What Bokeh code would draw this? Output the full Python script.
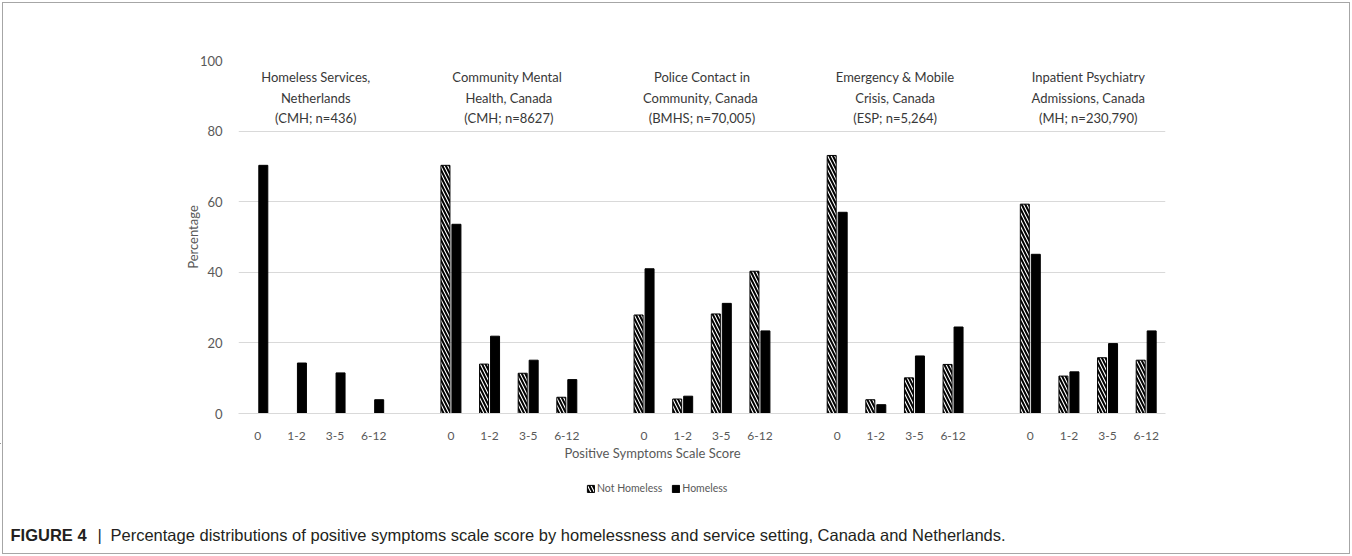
from bokeh.plotting import figure
from bokeh.models import ColumnDataSource, Range1d, FixedTicker, Legend, LegendItem
from bokeh.layouts import column
from bokeh.transform import dodge
from bokeh.core.properties import value
from bokeh.embed import file_html
from bokeh.resources import INLINE

nan = float("nan")

# ---- data ----
categories = ["0", "1-2", "3-5", "6-12"]
groups = ["Homeless Services, Netherlands", "Community Mental Health, Canada",
          "Police Contact in Community, Canada", "Emergency & Mobile Crisis, Canada",
          "Inpatient Psychiatry Admissions, Canada"]
title_line1 = ["Homeless Services,", "Community  Mental", "Police Contact in",
               "Emergency & Mobile", "Inpatient Psychiatry"]
title_line2 = ["Netherlands", "Health, Canada", "Community,  Canada",
               "Crisis, Canada", "Admissions, Canada"]
title_line3 = ["(CMH; n=436)", "(CMH; n=8627)", "(BMHS; n=70,005)",
               "(ESP; n=5,264)", "(MH; n=230,790)"]

not_homeless = [
    [nan, nan, nan, nan],
    [70.3, 14.0, 11.4, 4.6],
    [27.9, 4.1, 28.2, 40.3],
    [73.1, 3.9, 10.1, 13.9],
    [59.3, 10.6, 15.8, 15.1],
]
homeless = [
    [70.3, 14.3, 11.5, 3.9],
    [53.6, 21.9, 15.1, 9.6],
    [41.0, 4.9, 31.2, 23.4],
    [57.0, 2.5, 16.3, 24.5],
    [45.1, 11.8, 19.8, 23.4],
]
y_ticks = [0, 20, 40, 60, 80, 100]
x_title = "Positive Symptoms Scale Score"
legend_labels = ["Not Homeless", "Homeless"]
caption_bold = "FIGURE 4"
caption_sep = "|"
caption_text = ("Percentage distributions of positive symptoms scale score by "
                "homelessness and service setting, Canada and Netherlands.")

# ---- build table ----
xs, labels, nh, h = [], [], [], []
for g in range(len(groups)):
    for c, cat in enumerate(categories):
        xs.append(g * 5 + c)
        labels.append(cat)
        nh.append(not_homeless[g][c])
        h.append(homeless[g][c])
src = ColumnDataSource(dict(x=xs, label=labels, nh=nh, h=h))
tsrc = ColumnDataSource(dict(x=[g * 5 + 1.5 for g in range(len(groups))],
                             l1=title_line1, l2=title_line2, l3=title_line3,
                             y1=[95.2] * 5, y2=[89.5] * 5, y3=[83.8] * 5))

FONT = "Lato"
GREY = "#595959"
W = 1352
H_TOP = 443
H_BOT = 113

HATCH = dict(fill_color="white", line_color="black", line_width=1,
             hatch_pattern="left_diagonal_line", hatch_color="black",
             hatch_scale=7, hatch_weight=2)
SOLID = dict(fill_color="black", line_color="black", line_width=1)

p = figure(width=W, height=H_TOP, output_backend="svg", toolbar_location=None,
           x_range=Range1d(-0.5, 23.5), y_range=Range1d(0, 100),
           min_border_left=238, min_border_right=W - 1165, min_border_top=60,
           min_border_bottom=H_TOP - 413)
p.outline_line_color = None
p.border_fill_color = None
p.frame_align = False

# y axis
p.yaxis.ticker = FixedTicker(ticks=y_ticks)
p.yaxis.axis_line_color = None
p.yaxis.major_tick_line_color = None
p.yaxis.minor_tick_line_color = None
p.yaxis.major_label_standoff = 10
p.yaxis.major_label_text_font = FONT
p.yaxis.major_label_text_font_size = "13px"
p.yaxis.major_label_text_color = GREY
p.yaxis.axis_label = "Percentage"
p.yaxis.axis_label_text_font = FONT
p.yaxis.axis_label_text_font_size = "13px"
p.yaxis.axis_label_text_font_style = "normal"
p.yaxis.axis_label_text_color = GREY
p.yaxis.axis_label_standoff = -4

# x axis
p.xaxis.ticker = FixedTicker(ticks=xs)
p.xaxis.major_label_overrides = {x: l for x, l in zip(xs, labels)}
p.xaxis.axis_line_color = "#d9d9d9"
p.xaxis.major_tick_line_color = None
p.xaxis.minor_tick_line_color = None
p.xaxis.major_label_standoff = 12
p.xaxis.major_label_text_font = FONT
p.xaxis.major_label_text_font_size = "12px"
p.xaxis.major_label_text_color = GREY

p.xgrid.grid_line_color = None
p.ygrid.grid_line_color = "#d9d9d9"
p.ygrid.ticker = FixedTicker(ticks=y_ticks)

p.vbar(x=dodge("x", -0.142, range=p.x_range), top="nh", width=0.233, source=src, **HATCH)
p.vbar(x=dodge("x", 0.142, range=p.x_range), top="h", width=0.233, source=src, **SOLID)

for col_t, col_y in (("l1", "y1"), ("l2", "y2"), ("l3", "y3")):
    p.text(x="x", y=col_y, text=col_t, source=tsrc, text_align="center",
           text_baseline="middle", text_font=value(FONT), text_font_size="13px",
           text_color="#383838")

# ---- bottom strip: axis title, legend, caption (pixel coordinates) ----
q = figure(width=W, height=H_BOT, output_backend="svg", toolbar_location=None,
           x_range=Range1d(0, W), y_range=Range1d(H_BOT, 0),
           x_axis_type=None, y_axis_type=None, min_border=0)
q.frame_align = False
q.outline_line_color = None
q.border_fill_color = None
q.background_fill_color = None
q.xgrid.grid_line_color = None
q.ygrid.grid_line_color = None

q.text(x=[652], y=[9], text=[x_title], text_align="center", text_baseline="middle",
       text_font=value(FONT), text_font_size="13px", text_color=GREY)

dummy = ColumnDataSource(dict(x=[-1000], top=[0]))
g_nh = q.vbar(x="x", top="top", width=1, source=dummy, **HATCH)
g_h = q.vbar(x="x", top="top", width=1, source=dummy, **SOLID)
legend = Legend(items=[LegendItem(label=legend_labels[0], renderers=[g_nh]),
                       LegendItem(label=legend_labels[1], renderers=[g_h])],
                orientation="horizontal", location=(586, 62),
                glyph_width=9, glyph_height=9, label_text_font=FONT,
                label_text_font_size="10.5px", label_text_color=GREY,
                label_standoff=2, spacing=9, padding=2, margin=0,
                label_height=11, border_line_color=None, background_fill_alpha=0)
q.add_layout(legend, "center")

q.text(x=[10], y=[91], text=[caption_bold], text_baseline="middle",
       text_font=value("Liberation Sans"), text_font_size="16.5px",
       text_font_style="bold", text_color="#231f20")
q.text(x=[97], y=[91], text=[caption_sep], text_baseline="middle",
       text_font=value("Liberation Sans"), text_font_size="16.5px",
       text_color="#231f20")
q.text(x=[110], y=[91], text=[caption_text], text_baseline="middle",
       text_font=value("Liberation Sans"), text_font_size="16.5px",
       text_color="#231f20")

layout = column(p, q, spacing=0)
layout.styles = {"outline": "1px solid #a6a6a6", "outline-offset": "-3px"}

open("out.html", "w").write(file_html(layout, INLINE))
